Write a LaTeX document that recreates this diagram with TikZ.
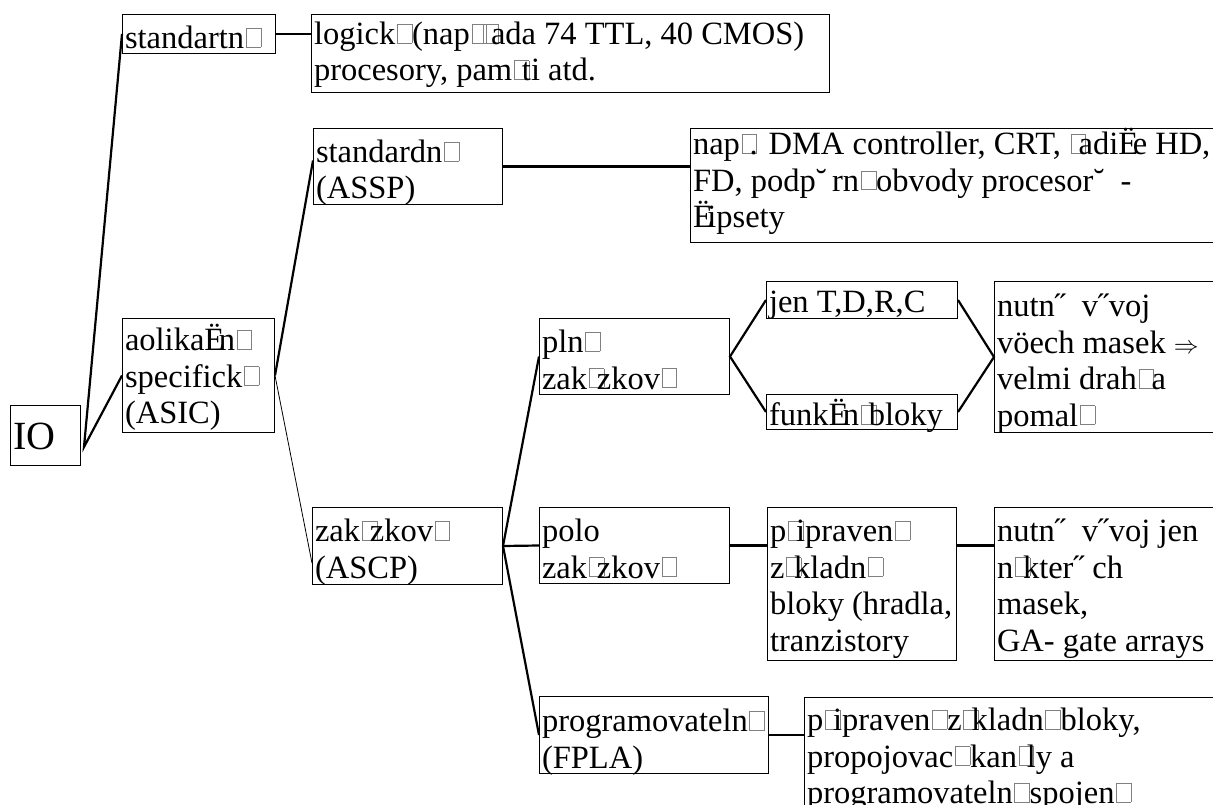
\documentclass[tikz,border=0pt]{standalone}
\usepackage{fontspec}
\setmainfont{Liberation Serif}
\newfontfamily\tnr{Liberation Serif}
\newcommand{\nog}[1][0.52em]% missing glyph, advance
{\makebox[#1][l]{\hspace{0.05em}\raisebox{0.06em}{\textcolor{gray}{\fboxsep=0pt\fboxrule=0.5pt\fbox{\rule{0pt}{0.56em}\hspace{0.44em}}}}}}
\newcommand{\cell}[4][34pt]% first baseline, width, height, text
{\parbox[c][#3][t]{#2}{\setlength{\leftskip}{2.5pt}\rule{0pt}{#1}#4}}
\newcommand{\Ec}{\"E\kern-0.17em}
\usetikzlibrary{positioning}

\begin{document}
\begin{tikzpicture}[x=1pt,y=-1pt,
	bx/.style={draw, line width=1pt, inner sep=0pt, anchor=north west, font=\tnr\fontsize{32.5}{36.5}\selectfont},
	link/.style={line width=2.2pt},
	thinlink/.style={line width=0.8pt}]
	\useasboundingbox (0,0) rectangle (1213,805);
	\node[bx] (io) at (10,405) {\cell[44pt]{70pt}{60pt}{\fontsize{40}{44}\selectfont IO}};%root
	\node[bx] (std) at (122,14) {\cell{153pt}{39pt}{standartn\nog}};
	\node[bx] (logic) at (311,14) {\cell[30pt]{518pt}{78pt}{logick\nog(nap\nog[0.35em]\nog[0.3em]ada 74 TTL, 40 CMOS)\\procesory, pam\nog[0.3em]ti atd.}};
	\node[bx] (asic) at (122,318) {\cell[32pt]{152pt}{114pt}{aolika\Ec n\nog\\specifick\nog\\(ASIC)}};
	\node[bx] (assp) at (313,128) {\cell{189pt}{76pt}{standardn\nog\\(ASSP)}};
	\node[bx] (dma) at (690,128) {\cell[26pt]{540pt}{114pt}{nap\nog[0.3em]. DMA controller, CRT, \nog[0.3em]adi\Ec e HD,\\FD, podp˘\,rn\nog obvody procesor˘\ \ -\\\Ec ipsety}};
	\node[bx] (ascp) at (312,507) {\cell{190pt}{77pt}{zak\nog[0.3em]zkov\nog\\(ASCP)}};
	\node[bx] (pln) at (539,318) {\cell{190pt}{76pt}{pln\nog\\zak\nog[0.3em]zkov\nog}};
	\node[bx] (polo) at (539,507) {\cell{190pt}{76pt}{polo\\zak\nog[0.3em]zkov\nog}};
	\node[bx] (fpla) at (539,696) {\cell[35pt]{229pt}{77pt}{programovateln\nog\\(FPLA)}};
	\node[bx] (jen) at (766,281) {\cell[31pt]{191pt}{37pt}{jen T,D,R,C}};
	\node[bx] (funk) at (766,394) {\cell[31pt]{191pt}{35pt}{funk\Ec n\nog[0.3em]bloky}};
	\node[bx] (masky) at (994,281) {\cell[35pt]{240pt}{151pt}{nutn˝\ \ v˝voj\\vöech masek $\Rightarrow$\\velmi drah\nog[0.45em]a\\pomal\nog}};
	\node[bx] (prip) at (767,507) {\cell{189pt}{153pt}{p\nog[0.3em]ipraven\nog\\z\nog[0.3em]kladn\nog\\bloky (hradla,\\tranzistory}};
	\node[bx] (jenmasky) at (994,507) {\cell{240pt}{153pt}{nutn˝\ \ v˝voj jen\\n\nog[0.3em]kter˝\ ch\\masek,\\GA- gate arrays}};
	\node[bx] (prog) at (804,697) {\cell[33pt]{430pt}{120pt}{p\nog[0.3em]ipraven\nog z\nog[0.3em]kladn\nog bloky,\\propojovac\nog kan\nog[0.3em]ly a\\programovateln\nog spojen\nog}};
	% connectors
	\coordinate (iotip) at (84,447);
	\draw[link] (std.west) -- (iotip) -- (asic.west);
	\draw[link] (std.east) -- (std.east -| logic.west);
	\draw[link] ([yshift=6pt]assp.west) -- (asic.east);
	\draw[thinlink] (asic.east) -- ([yshift=-17pt]ascp.west);
	\draw[link] (assp.east) -- (assp.east -| dma.west);
	\draw[link] (pln.west) -- (ascp.east) -- (fpla.west);
	\draw[link] (ascp.east) -- (polo.west);
	\draw[link] (jen.west) -- (pln.east) -- (funk.west);
	\draw[link] (jen.east) -- (masky.west) -- (funk.east);
	\draw[link] (polo.east) -- (polo.east -| prip.west);
	\draw[link] (polo.east -| prip.east) -- (polo.east -| jenmasky.west);
	\draw[link] (fpla.east) -- (fpla.east -| prog.west);
\end{tikzpicture}
\end{document}
